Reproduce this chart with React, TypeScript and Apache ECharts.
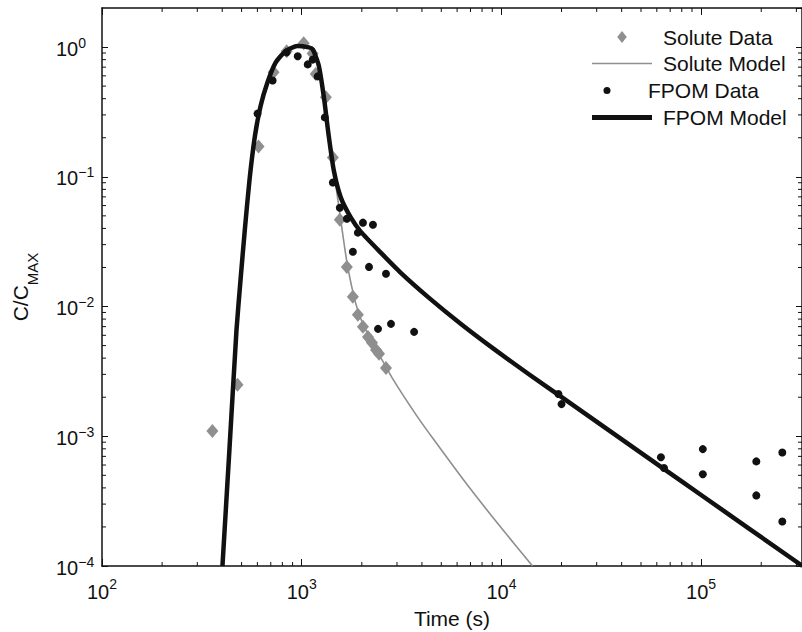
import React, { useEffect, useRef } from 'react';
import * as echarts from 'echarts';

// ---- Data ----
const soluteDataT = [357, 477, 608, 723, 841, 1023, 1134, 1175, 1321, 1432, 1552, 1683, 1804, 1911, 2026, 2147, 2249, 2356, 2439, 2643];
const soluteDataC = [0.0011, 0.0025, 0.171, 0.64, 0.93, 1.07, 0.89, 0.62, 0.41, 0.141, 0.0467, 0.0202, 0.0119, 0.00863, 0.00697, 0.00583, 0.00525, 0.00463, 0.00432, 0.00336];

const fpomDataT = [601, 715, 841, 955, 1072, 1135, 1202, 1305, 1432, 1552, 1683, 1804, 1911, 2026, 2172, 2274, 2410, 2643, 2799, 3655, 19300, 20000, 62900, 65200, 102000, 102000, 189000, 189000, 255000, 255000];
const fpomDataC = [0.307, 0.553, 0.91, 0.85, 0.735, 0.8, 0.594, 0.287, 0.0903, 0.0578, 0.0475, 0.0264, 0.0371, 0.0443, 0.0202, 0.0427, 0.00673, 0.0179, 0.00735, 0.00638, 0.00212, 0.00177, 0.00069, 0.00057, 0.000796, 0.00051, 0.00064, 0.00035, 0.00075, 0.00022];

const soluteModelT = [401, 435, 471.5, 494, 519, 548, 583, 622, 673, 740, 831, 951, 1084, 1136, 1217, 1290, 1367, 1448, 1517, 1570, 1683, 1804, 1912, 2025, 2172, 2356, 2832, 3741, 4603, 6820, 10000, 14320];
const soluteModelC = [1.0e-4, 8.09e-4, 6.61e-3, 0.01607, 0.0391, 0.0951, 0.2055, 0.35, 0.531, 0.758, 0.931, 1.018, 0.995, 0.96, 0.722, 0.416, 0.2043, 0.1117, 0.0667, 0.0459, 0.0221, 0.01298, 0.00926, 0.00735, 0.00594, 0.00471, 0.002835, 0.001463, 0.000935, 0.000413, 0.000196, 0.0001];

const fpomModelT = [401, 435, 471.5, 494, 519, 548, 583, 622, 673, 740, 831, 951, 1084, 1136, 1217, 1290, 1367, 1448, 1570, 1763, 1979, 2495, 3145, 4295, 6295, 9230, 13670, 20030, 63680, 101200, 321800];
const fpomModelC = [1.0e-4, 8.09e-4, 6.61e-3, 0.01607, 0.0391, 0.0951, 0.2055, 0.35, 0.531, 0.758, 0.931, 1.018, 0.995, 0.96, 0.722, 0.416, 0.2043, 0.1117, 0.0691, 0.0484, 0.0376, 0.0259, 0.0181, 0.01182, 0.0073, 0.00467, 0.00302, 0.002004, 0.000573, 0.000348, 0.0001];

const seriesNames = ['Solute Data', 'Solute Model', 'FPOM Data', 'FPOM Model'];

const X_MIN = 100;
const X_MAX = 320000;
const Y_MIN = 1e-4;
const Y_MAX = 2;

const xDecades = [100, 1000, 10000, 100000];
const yDecades = [1e-4, 1e-3, 1e-2, 1e-1];
const minorMultipliers = [2, 3, 4, 5, 6, 7, 8, 9];

const FONT = '"Liberation Sans", Arial, Helvetica, sans-serif';
const INK = '#111';
const GRAY = '#8f8f8f';

// Icons padded with bare move-to points so that they span the full 60px legend slot and stay centred
const DIAMOND_ICON = 'path://M-5,0M5,0M0,-1L0.8,0L0,1L-0.8,0Z';
const DOT_ICON = 'path://M-4.2857,0M4.2857,0M0,-1A1,1,0,1,1,0,1A1,1,0,1,1,0,-1Z';

const pairs = (xs: number[], ys: number[]) => xs.map((x, i) => [x, ys[i]]);

const supLabel = (v: number) => {
  const e = Math.log10(v);
  const r = Math.round(e);
  if (Math.abs(e - r) > 1e-6) return '';
  const s = r < 0 ? '\u2212' + String(-r) : String(r);
  return '{b|10}{s|' + s + '}';
};

export default function App() {
  const ref = useRef<HTMLDivElement>(null);
  useEffect(() => {
    if (!ref.current) return;
    const chart = echarts.init(ref.current, undefined, { renderer: 'svg' });

    const xMinor: number[] = [];
    xDecades.forEach((d) => minorMultipliers.forEach((m) => { if (d * m < X_MAX) xMinor.push(d * m); }));
    const yMinor: number[] = [];
    yDecades.forEach((d) => minorMultipliers.forEach((m) => { if (d * m < Y_MAX) yMinor.push(d * m); }));

    const axisLineStyle = { color: INK, width: 1.5 };
    const tickStyle = { color: INK, width: 1 };

    const xRich = {
      b: { fontSize: 20, fontFamily: FONT, color: INK, lineHeight: 25, verticalAlign: 'bottom' },
      s: { fontSize: 14, fontFamily: FONT, color: INK, lineHeight: 14, verticalAlign: 'top' },
    };
    const yRich = {
      b: { fontSize: 20, fontFamily: FONT, color: INK, lineHeight: 23, verticalAlign: 'bottom' },
      s: { fontSize: 14, fontFamily: FONT, color: INK, lineHeight: 14, verticalAlign: 'top' },
    };

    const legendRows = [
      { name: seriesNames[0], cy: 37, h: 12, icon: DIAMOND_ICON },
      { name: seriesNames[1], cy: 63.5, h: 1.6, icon: 'rect' },
      { name: seriesNames[2], cy: 90.5, h: 7, icon: DOT_ICON },
      { name: seriesNames[3], cy: 117.5, h: 5, icon: 'rect' },
    ];

    const minorTickSeries = (data: number[][], isX: boolean) => ({
      type: 'custom',
      coordinateSystem: 'cartesian2d',
      xAxisIndex: 0,
      yAxisIndex: 0,
      silent: true,
      clip: false,
      z: 10,
      data,
      renderItem: (params: any, api: any) => {
        const cs = params.coordSys;
        const p = api.coord([api.value(0), api.value(1)]);
        const st = { stroke: INK, lineWidth: 1 };
        if (isX) {
          const x = p[0];
          const yb = cs.y + cs.height;
          const yt = cs.y;
          return {
            type: 'group',
            children: [
              { type: 'line', shape: { x1: x, y1: yb, x2: x, y2: yb - 4 }, style: st },
              { type: 'line', shape: { x1: x, y1: yt, x2: x, y2: yt + 4 }, style: st },
            ],
          };
        }
        const y = p[1];
        const xl = cs.x;
        const xr = cs.x + cs.width;
        return {
          type: 'group',
          children: [
            { type: 'line', shape: { x1: xl, y1: y, x2: xl + 4, y2: y }, style: st },
            { type: 'line', shape: { x1: xr, y1: y, x2: xr - 4, y2: y }, style: st },
          ],
        };
      },
    });

    chart.setOption({
      animation: false,
      backgroundColor: '#fff',
      grid: { left: 102, top: 8, width: 700, height: 558, containLabel: false, outerBoundsMode: 'none' },
      xAxis: [
        {
          type: 'log', logBase: 10, min: X_MIN, max: X_MAX, position: 'bottom',
          axisLine: { show: true, lineStyle: axisLineStyle },
          axisTick: { show: true, inside: true, length: 7, lineStyle: tickStyle },
          splitLine: { show: false },
          axisLabel: { formatter: supLabel, margin: 11, rich: xRich, showMaxLabel: false },
          name: 'Time (s)', nameLocation: 'middle', nameGap: 40,
          nameTextStyle: { fontSize: 21, fontFamily: FONT, color: INK, lineHeight: 24 },
        },
        {
          type: 'log', logBase: 10, min: X_MIN, max: X_MAX, position: 'top',
          axisLine: { show: true, lineStyle: axisLineStyle },
          axisTick: { show: true, inside: true, length: 7, lineStyle: tickStyle },
          splitLine: { show: false },
          axisLabel: { show: false },
        },
      ],
      yAxis: [
        {
          type: 'log', logBase: 10, min: Y_MIN, max: Y_MAX, position: 'left',
          axisLine: { show: true, lineStyle: axisLineStyle },
          axisTick: { show: true, inside: true, length: 6, lineStyle: tickStyle },
          splitLine: { show: false },
          axisLabel: { formatter: supLabel, margin: 46, align: 'left', rich: yRich, showMaxLabel: false },
          name: '{a|C/C}{m|MAX}', nameLocation: 'middle', nameGap: 62, nameRotate: 90,
          nameTextStyle: {
            rich: {
              a: { fontSize: 21, fontFamily: FONT, color: INK, lineHeight: 21, verticalAlign: 'top' },
              m: { fontSize: 15, fontFamily: FONT, color: INK, lineHeight: 30, verticalAlign: 'bottom' },
            },
          },
        },
        {
          type: 'log', logBase: 10, min: Y_MIN, max: Y_MAX, position: 'right',
          axisLine: { show: true, lineStyle: axisLineStyle },
          axisTick: { show: true, inside: true, length: 6, lineStyle: tickStyle },
          splitLine: { show: false },
          axisLabel: { show: false },
        },
      ],
      legend: legendRows.map((r) => ({
        data: [{ name: r.name, icon: r.icon }],
        left: 592,
        top: r.cy - 10.5,
        itemWidth: 60,
        itemHeight: r.h,
        padding: 0,
        selectedMode: false,
        textStyle: { fontSize: 21, fontFamily: FONT, color: INK, lineHeight: 21, padding: [0, 0, 0, 6] },
      })),
      series: [
        {
          name: seriesNames[0], type: 'scatter', xAxisIndex: 0, yAxisIndex: 0,
          symbol: 'diamond', symbolSize: [12, 14],
          itemStyle: { color: GRAY, opacity: 1 },
          data: pairs(soluteDataT, soluteDataC), z: 2,
        },
        {
          name: seriesNames[1], type: 'line', xAxisIndex: 0, yAxisIndex: 0,
          symbol: 'none', showSymbol: false, smooth: 0.2,
          lineStyle: { color: GRAY, width: 1.6 }, itemStyle: { color: GRAY },
          data: pairs(soluteModelT, soluteModelC), z: 3,
        },
        {
          name: seriesNames[2], type: 'scatter', xAxisIndex: 0, yAxisIndex: 0,
          symbol: 'circle', symbolSize: 8,
          itemStyle: { color: INK, opacity: 1 },
          data: pairs(fpomDataT, fpomDataC), z: 4,
        },
        {
          name: seriesNames[3], type: 'line', xAxisIndex: 0, yAxisIndex: 0,
          symbol: 'none', showSymbol: false, smooth: 0.2,
          lineStyle: { color: INK, width: 4.5, join: 'round' }, itemStyle: { color: INK },
          data: pairs(fpomModelT, fpomModelC), z: 5,
        },
        minorTickSeries(xMinor.map((t) => [t, 1]), true),
        minorTickSeries(yMinor.map((c) => [1000, c]), false),
      ],
    });
    return () => chart.dispose();
  }, []);
  return <div ref={ref} style={{ position: 'absolute', left: 0, top: 0, width: 802, height: 632 }} />;
}
